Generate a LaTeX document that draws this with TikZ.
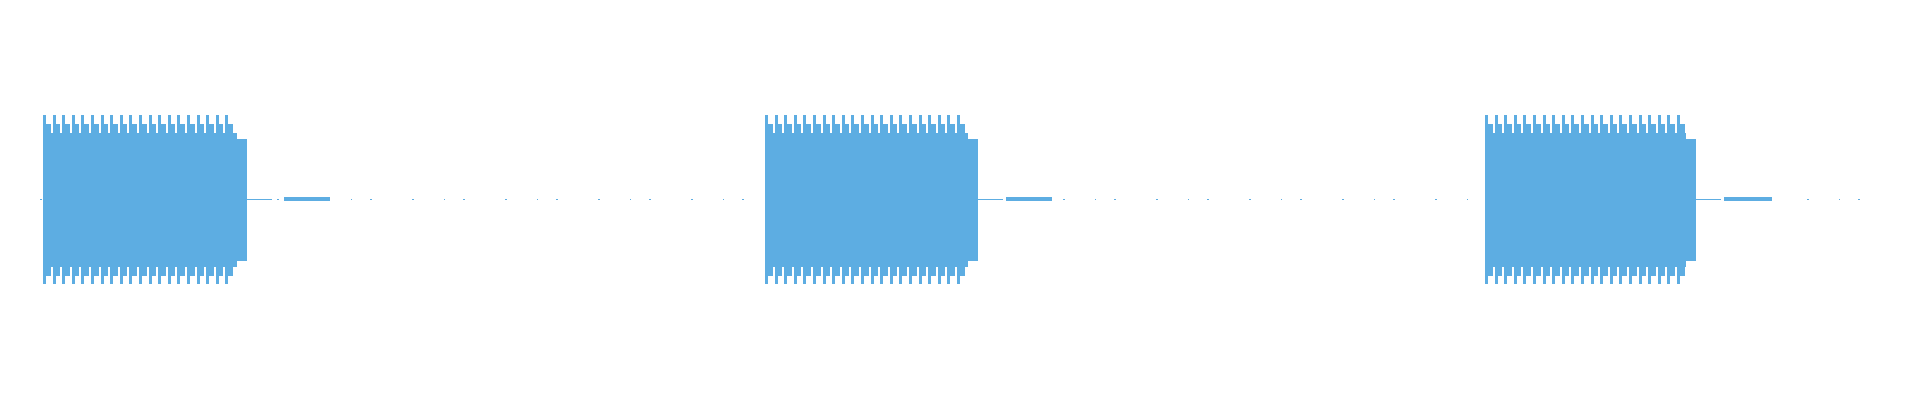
\documentclass[tikz,border=0pt]{standalone}
\definecolor{wave}{HTML}{5DADE2}
\begin{document}
\begin{tikzpicture}[x=1pt,y=-1pt,dl/.style={draw=wave,line width=1pt}]
\useasboundingbox (0,0) rectangle (1920,400);
\draw[dl,dash pattern=on 2pt off 30pt on 1pt off 18pt on 2pt off 40pt] (40,199) -- (1860,199);
\foreach \a/\b in {43/247,765/978,1485/1696}{
  \fill[wave] (\a,133) rectangle (\b-10,267);
  \fill[wave] (\b-10,139) rectangle (\b,261);
  \pgfmathsetmacro{\e}{\b-14}
  \pgfmathsetmacro{\s}{\a+9.6}
  \foreach \x in {\a,\s,...,\e}{
    \fill[wave] (\x,115) rectangle (\x+3,135);
    \fill[wave] (\x+3,124) rectangle (\x+7.5,135);
    \fill[wave] (\x,265) rectangle (\x+3,284);
    \fill[wave] (\x+3,265) rectangle (\x+7.5,276);
  }
  \draw[dl] (\b,199) -- (\b+25,199);
}
\fill[wave] (284,197) rectangle (330,201);
\fill[wave] (1006,197) rectangle (1052,201);
\fill[wave] (1724,197) rectangle (1772,201);
\end{tikzpicture}
\end{document}
